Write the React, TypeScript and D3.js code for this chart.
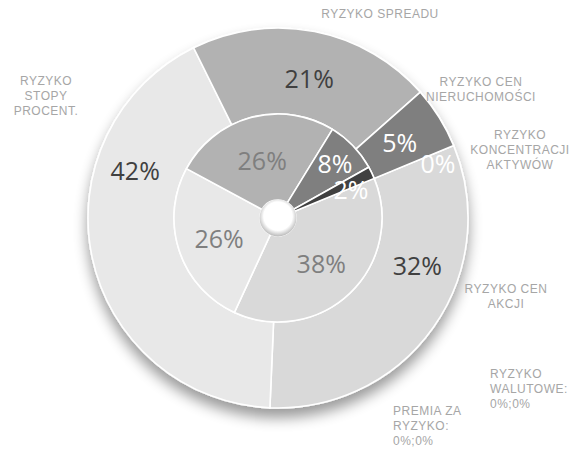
import React from "react";
import * as d3 from "d3";

// ---- data (order follows the chart's clockwise order from the first slice angle) ----
const categories = [
  "RYZYKO CEN AKCJI",
  "RYZYKO WALUTOWE",
  "PREMIA ZA RYZYKO",
  "RYZYKO STOPY PROCENT.",
  "RYZYKO SPREADU",
  "RYZYKO CEN NIERUCHOMOŚCI",
  "RYZYKO KONCENTRACJI AKTYWÓW",
];
const categoryLabelLines = [
  ["RYZYKO CEN", "AKCJI"],
  ["RYZYKO", "WALUTOWE:"],
  ["PREMIA ZA", "RYZYKO:"],
  ["RYZYKO", "STOPY", "PROCENT."],
  ["RYZYKO SPREADU"],
  ["RYZYKO CEN", "NIERUCHOMOŚCI"],
  ["RYZYKO", "KONCENTRACJI", "AKTYWÓW"],
];
const outerValues = [31.9, 0, 0, 42.0, 20.8, 5.3, 0.0];
const innerValues = [38.1, 0, 0, 26.0, 25.9, 8.1, 1.9];

// ---- styles / layout ----
const W = 582;
const H = 454;
const CX = 278;
const CY = 218;
const R_HOLE = 18;
const R_MID = 104;
const R_OUT = 190;
const FIRST_SLICE_DEG = 67.6;
const sliceColors = ["#d9d9d9", "#c4c4c4", "#a5a5a5", "#e8e8e8", "#b2b2b2", "#7f7f7f", "#404040"];
const outerTextColors = ["#404040", "#404040", "#404040", "#404040", "#404040", "#ffffff", "#ffffff"];
const innerTextColors = ["#7f7f7f", "#7f7f7f", "#7f7f7f", "#7f7f7f", "#7f7f7f", "#ffffff", "#ffffff"];
// label nudges relative to slice centroid (Excel's placement)
const outerNudge: [number, number][] = [[19, -36], [0, 0], [0, 0], [1, -77], [3, 5], [-3, 3], [24, 2]];
const innerNudge: [number, number][] = [[1, 2], [0, 0], [0, 0], [-1, 2], [0, 2], [13, -12], [18, -1]];
// category label anchors: [text-anchor, x, first baseline]
const catPos: [string, number, number][] = [
  ["middle", 506, 293],
  ["start", 490, 378],
  ["start", 393, 415],
  ["middle", 46, 85],
  ["middle", 380, 18],
  ["middle", 481, 86],
  ["middle", 520, 139],
];
const LINE_H = 15;
const VALUE_FONT = 25;

const pct = d3.format(".0%");

export default function App() {
  const start = (FIRST_SLICE_DEG * Math.PI) / 180;
  const pie = d3
    .pie<number>()
    .sort(null)
    .value((d) => d)
    .startAngle(start)
    .endAngle(start + 2 * Math.PI);

  const outerTotal = d3.sum(outerValues);
  const innerTotal = d3.sum(innerValues);
  const outerArcs = pie(outerValues);
  const innerArcs = pie(innerValues);

  const outerArc = d3.arc<d3.PieArcDatum<number>>().innerRadius(R_MID).outerRadius(R_OUT);
  const innerArc = d3.arc<d3.PieArcDatum<number>>().innerRadius(R_HOLE).outerRadius(R_MID);

  return (
    <svg
      width={W}
      height={H}
      style={{ position: "absolute", left: 0, top: 0, display: "block", background: "#fff" }}
    >
      <defs>
        <filter id="shadow" x="-20%" y="-20%" width="140%" height="150%">
          <feGaussianBlur in="SourceAlpha" stdDeviation="7" />
          <feOffset dx="0" dy="9" result="blur" />
          <feComponentTransfer>
            <feFuncA type="linear" slope="0.4" />
          </feComponentTransfer>
          <feMerge>
            <feMergeNode />
            <feMergeNode in="SourceGraphic" />
          </feMerge>
        </filter>
        <radialGradient id="hole" cx="50%" cy="45%" r="55%">
          <stop offset="0" stopColor="#ffffff" />
          <stop offset="0.7" stopColor="#ffffff" />
          <stop offset="1" stopColor="#b8b8b8" />
        </radialGradient>
      </defs>

      <g transform={`translate(${CX},${CY})`}>
        <g filter="url(#shadow)">
          {outerArcs.map((a, i) =>
            a.value > 0 ? (
              <path key={"o" + i} d={outerArc(a) || ""} fill={sliceColors[i]} stroke="#fff" strokeWidth={1.6} />
            ) : null
          )}
          {innerArcs.map((a, i) =>
            a.value > 0 ? (
              <path key={"i" + i} d={innerArc(a) || ""} fill={sliceColors[i]} stroke="#fff" strokeWidth={1.6} />
            ) : null
          )}
        </g>
        <circle r={R_HOLE + 0.5} fill="url(#hole)" />

        {/* outer values */}
        {outerArcs.map((a, i) => {
          if (i === 1 || i === 2) return null;
          const [x, y] = outerArc.centroid(a);
          return (
            <text
              key={"ot" + i}
              x={x + outerNudge[i][0]}
              y={y + outerNudge[i][1] + VALUE_FONT * 0.36}
              textAnchor="middle"
              fontFamily="'Open Sans', sans-serif"
              fontSize={VALUE_FONT}
              fill={outerTextColors[i]}
            >
              {pct(a.value / outerTotal)}
            </text>
          );
        })}
        {/* inner values */}
        {innerArcs.map((a, i) => {
          if (i === 1 || i === 2) return null;
          const [x, y] = innerArc.centroid(a);
          return (
            <text
              key={"it" + i}
              x={x + innerNudge[i][0]}
              y={y + innerNudge[i][1] + VALUE_FONT * 0.36}
              textAnchor="middle"
              fontFamily="'Open Sans', sans-serif"
              fontSize={VALUE_FONT}
              fill={innerTextColors[i]}
            >
              {pct(a.value / innerTotal)}
            </text>
          );
        })}
      </g>

      {/* category labels */}
      {categories.map((c, i) => {
        const lines = [...categoryLabelLines[i]];
        if (outerValues[i] === 0 && innerValues[i] === 0) {
          lines.push(`${pct(outerValues[i] / outerTotal)};${pct(innerValues[i] / innerTotal)}`);
        }
        const [anchor, x, y0] = catPos[i];
        return (
          <text
            key={"c" + i}
            x={x}
            y={y0}
            textAnchor={anchor}
            fontFamily="'Liberation Sans', Arial, sans-serif"
            fontSize={12}
            letterSpacing={0.5}
            fill="#a6a6a6"
          >
            {lines.map((l, j) => (
              <tspan key={j} x={x} y={y0 + j * LINE_H}>
                {l}
              </tspan>
            ))}
          </text>
        );
      })}
    </svg>
  );
}
